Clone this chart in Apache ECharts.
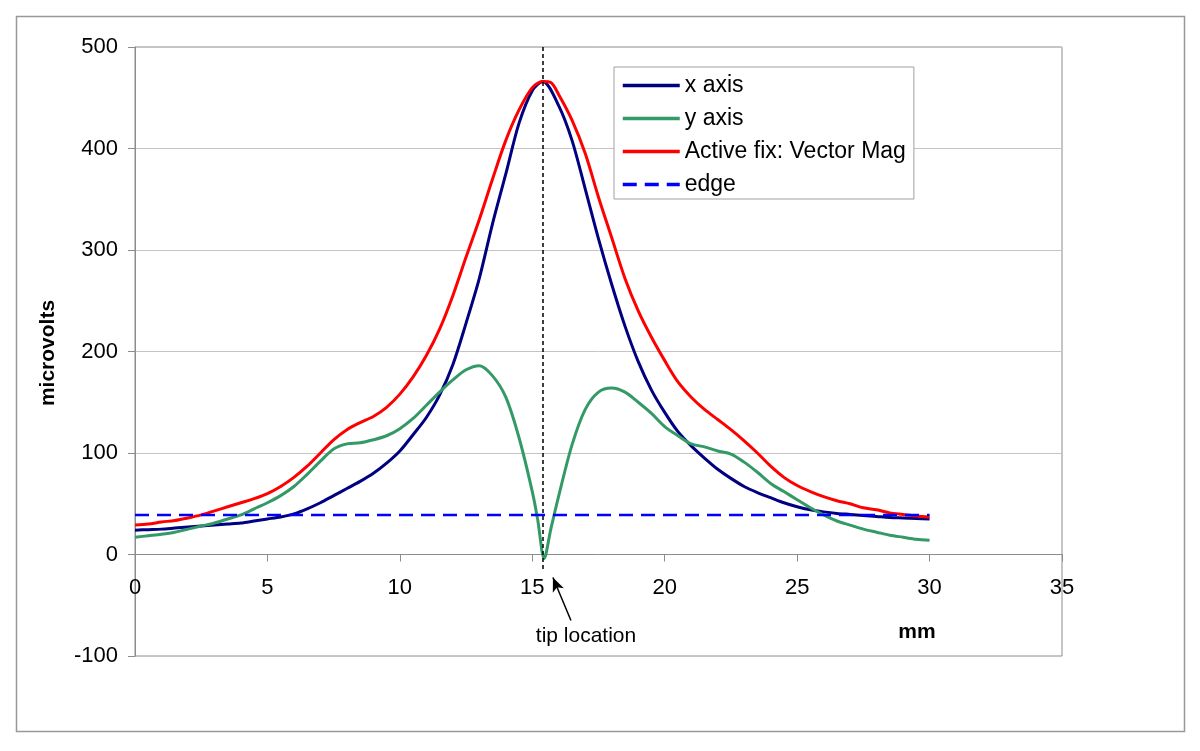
<!DOCTYPE html>
<html>
<head>
<meta charset="utf-8">
<script src="https://cdn.jsdelivr.net/npm/echarts@6/dist/echarts.min.js"></script>
<style>
html,body{margin:0;padding:0;background:#fff;}
#chart{width:1200px;height:751px;}
</style>
</head>
<body>
<div id="chart"></div>
<script>
// ---- data (mm, microvolts) ----
const xAxisMm = [0,0.5,1,1.5,2,2.5,3,3.5,4,4.5,5,5.5,6,6.5,7,7.5,8,8.5,9,9.5,10,10.5,11,11.5,12,12.5,13,13.5,14,14.5,15,15.4,16,16.5,17,17.5,18,18.5,19,19.5,20,20.5,21,21.5,22,22.5,23,23.5,24,24.5,25,25.5,26,26.5,27,27.5,28,28.5,29,29.5,30];
const xAxisUv = [24,24.5,25,26,27,28,29,30,31,33,35,37,40,45,51,58,65,72,80,90,102,118,135,157,187,228,272,326,375,425,457,466,442,408,360,311,266,225,190,162,140,121,107,95,84,75,67,61,56,51,47,44,42,40.5,39.5,38.5,37.5,36.5,36,35.5,35];

const yAxisMm = [0,0.5,1,1.5,2,2.5,3,3.5,4,4.5,5,5.5,6,6.5,7,7.5,8,8.5,9,9.5,10,10.5,11,11.5,12,12.5,13,13.5,14,14.5,15,15.2,15.45,15.7,16,16.5,17,17.5,18,18.5,19,19.5,20,20.5,21,21.5,22,22.5,23,23.5,24,24.5,25,25.5,26,26.5,27,27.5,28,28.5,29,29.5,30];
const yAxisUv = [17,18.5,20,22,25,28,31,35,39,45,51,58,67,79,92,104,109,110,113,117,124,134,147,160,172,182,186,176,155,115,62,35,-4,25,58,108,143,160,164,160,150,139,126,117,109,106,102,99,91,81,70,62,54,46,39,33,29,25,22,19,17,15,14];

const vecMm = [0,0.5,1,1.5,2,2.5,3,3.5,4,4.5,5,5.5,6,6.5,7,7.5,8,8.5,9,9.5,10,10.5,11,11.5,12,12.5,13,13.5,14,14.5,15,15.4,15.7,16,16.5,17,17.5,18,18.5,19,19.5,20,20.5,21,21.5,22,22.5,23,23.5,24,24.5,25,25.5,26,26.5,27,27.5,28,28.5,29,29.5,30];
const vecUv = [29,30,32,33.5,36,39,43,47,51,55,60,67,76,87,100,113,123,130,136,145,158,175,196,222,255,293,330,370,408,438,460,466,465,453,428,395,352,312,272,240,214,191,170,155,143,133,123,112,100,87,76,68,62,57,53,50,46,44,41,39.5,38,37];

const edgeMm = [0,30];
const edgeUv = [39,39];

const tipMm = 15.4;
const seriesNames = ['x axis','y axis','Active fix: Vector Mag','edge'];
const xTicks = {min:0,max:35,interval:5};
const yTicks = {min:-100,max:500,interval:100};

function pairs(xs, ys){ return xs.map((x,i)=>[x, ys[i]]); }

const chart = echarts.init(document.getElementById('chart'));
const FONT = '"Liberation Sans", Arial, sans-serif';
const GRID = {left:135, top:47, right:138, bottom:95};
const gridH = 751 - GRID.top - GRID.bottom;
// shift the x axis up to y = 0
const xAxisOffset = -gridH * (0 - yTicks.min) / (yTicks.max - yTicks.min);

chart.setOption({
  animation:false,
  backgroundColor:'#ffffff',
  textStyle:{fontFamily:FONT},
  grid:Object.assign({show:true, borderColor:'#8c8c8c', borderWidth:1, backgroundColor:'transparent'}, GRID),
  xAxis:{
    type:'value', min:xTicks.min, max:xTicks.max, interval:xTicks.interval,
    offset:xAxisOffset,
    axisLine:{onZero:false, lineStyle:{color:'#8c8c8c', width:1}},
    axisTick:{show:true, length:7, lineStyle:{color:'#8c8c8c'}},
    axisLabel:{color:'#000', fontSize:22, margin:22, fontFamily:FONT},
    splitLine:{show:false}
  },
  yAxis:{
    type:'value', min:yTicks.min, max:yTicks.max, interval:yTicks.interval,
    axisLine:{show:true, lineStyle:{color:'#8c8c8c', width:1}},
    axisTick:{show:true, length:7, lineStyle:{color:'#8c8c8c'}},
    axisLabel:{color:'#000', fontSize:22, margin:17, fontFamily:FONT},
    splitLine:{show:true, lineStyle:{color:'#c4c4c4', width:1}}
  },
  legend:{
    orient:'vertical', left:614, top:67,
    data:seriesNames,
    backgroundColor:'#fff', borderColor:'#a0a0a0', borderWidth:1,
    padding:[7,8,3,7], itemWidth:57, itemHeight:22, itemGap:10,
    itemStyle:{opacity:0},
    lineStyle:{width:3.5},
    textStyle:{color:'#000', fontSize:23, fontFamily:FONT},
    selectedMode:false
  },
  series:[
    {name:seriesNames[0], type:'line', data:pairs(xAxisMm,xAxisUv), symbol:'none', smooth:0.3,
     lineStyle:{color:'#000080', width:3}, itemStyle:{color:'#000080'}, z:2},
    {name:seriesNames[1], type:'line', data:pairs(yAxisMm,yAxisUv), symbol:'none', smooth:0.3,
     lineStyle:{color:'#339966', width:3}, itemStyle:{color:'#339966'}, z:2},
    {name:seriesNames[2], type:'line', data:pairs(vecMm,vecUv), symbol:'none', smooth:0.3,
     lineStyle:{color:'#ff0000', width:3}, itemStyle:{color:'#ff0000'}, z:3,
     markLine:{
       silent:true, symbol:['none','none'], label:{show:false},
       data:[
         [{coord:[tipMm,500], lineStyle:{color:'#000', width:1.5, type:[4,3]}},{coord:[tipMm,-16]}],
         [{coord:[16.46,-65], symbol:'none', lineStyle:{color:'#000', width:1.5, type:'solid'}},{coord:[15.78,-22.7], symbol:'arrow', symbolSize:[9,14]}]
       ]
     }},
    {name:seriesNames[3], type:'line', data:pairs(edgeMm,edgeUv), symbol:'none',
     lineStyle:{color:'#0000ff', width:2.5, type:[14,8]}, itemStyle:{color:'#0000ff'}, z:4}
  ],
  graphic:[
    {type:'rect', left:14, top:14, shape:{width:1168, height:715}, style:{fill:'none', stroke:'#999', lineWidth:1.5}, silent:true},
    {type:'text', x:48, y:353, rotation:Math.PI/2, style:{text:'microvolts', fill:'#000', font:'bold 21px '+FONT, textAlign:'center', textVerticalAlign:'middle'}},
    {type:'text', x:917, y:632, style:{text:'mm', fill:'#000', font:'bold 21px '+FONT, textAlign:'center', textVerticalAlign:'middle'}},
    {type:'text', x:586, y:636, style:{text:'tip location', fill:'#000', font:'21px '+FONT, textAlign:'center', textVerticalAlign:'middle'}}
  ]
});
</script>
</body>
</html>
